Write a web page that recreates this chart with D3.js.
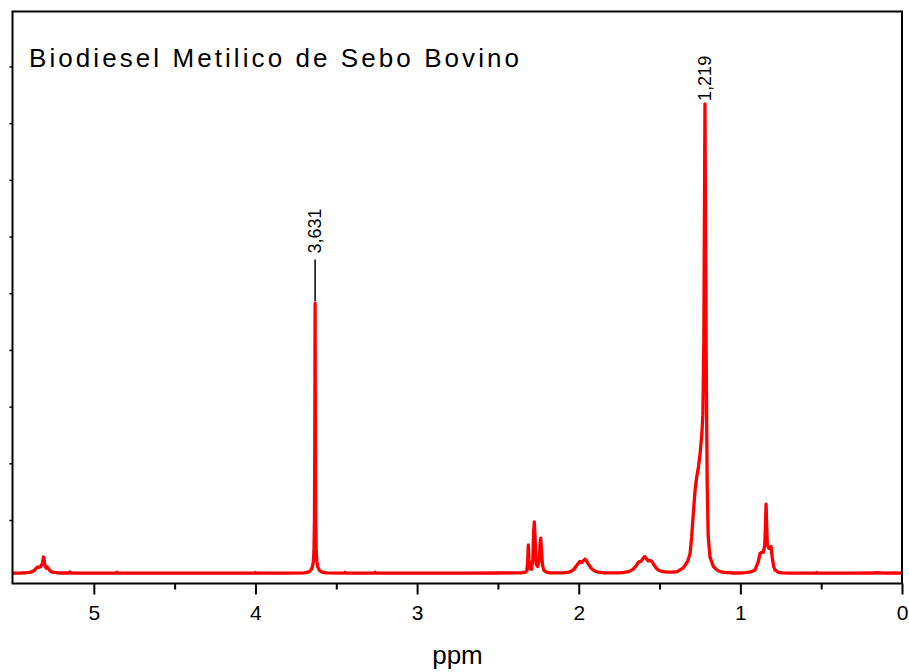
<!DOCTYPE html>
<html>
<head>
<meta charset="utf-8">
<script src="https://cdn.jsdelivr.net/npm/d3@7"></script>
<style>
  html, body { margin: 0; padding: 0; background: #fff; }
  svg { display: block; font-family: Arial, "Liberation Sans", sans-serif; }
</style>
</head>
<body>
<svg id="chart" width="909" height="672"></svg>
<script>
// 1H NMR spectrum: chemical shift (ppm) and relative intensity
const shifts = [
  5.50, 5.46, 5.42, 5.40, 5.38, 5.365, 5.35, 5.34, 5.328, 5.318, 5.314, 5.311, 5.307, 5.302, 5.294, 5.287, 5.28, 5.27, 5.255, 5.23, 5.20,
  5.155, 5.147, 5.14, 5.00, 4.865, 4.858, 4.85, 4.60, 4.30, 4.005, 4.0, 3.995, 3.80,
  3.70, 3.68, 3.667, 3.656, 3.648, 3.642, 3.638, 3.635, 3.633, 3.631, 3.629, 3.627, 3.624, 3.620, 3.614, 3.606, 3.595, 3.58, 3.56,
  3.452, 3.446, 3.44, 3.265, 3.26, 3.255, 3.00, 2.70, 2.50, 2.40, 2.35, 2.33,
  2.321, 2.316, 2.312, 2.308, 2.301, 2.292, 2.284, 2.279, 2.275, 2.271, 2.263, 2.254, 2.245, 2.239, 2.235, 2.231, 2.224, 2.215, 2.20, 2.18,
  2.10, 2.07, 2.05, 2.03, 2.015, 2.00, 1.992, 1.982, 1.972, 1.961, 1.952, 1.94, 1.92, 1.90, 1.88, 1.85, 1.80,
  1.75, 1.72, 1.69, 1.665, 1.645, 1.632, 1.625, 1.615, 1.605, 1.595, 1.59, 1.582, 1.57, 1.56, 1.549, 1.535, 1.52, 1.503, 1.48, 1.45, 1.42,
  1.39, 1.373, 1.355, 1.342, 1.325, 1.311, 1.301, 1.291, 1.280, 1.270, 1.259, 1.249, 1.238, 1.232, 1.226, 1.219, 1.212, 1.208, 1.205,
  1.199, 1.188, 1.167, 1.145, 1.126, 1.10, 1.046, 1.00,
  0.971, 0.935, 0.909, 0.889, 0.878, 0.868, 0.858, 0.849, 0.845, 0.841, 0.837, 0.833, 0.823, 0.810, 0.802, 0.794, 0.786, 0.765, 0.74, 0.703,
  0.60, 0.533, 0.528, 0.523, 0.30, 0.17, 0.16, 0.10, 0.05, 0.00
];
const intensity = [
  0.062, 0.064, 0.07, 0.075, 0.09, 0.12, 0.17, 0.165, 0.18, 0.24, 0.30, 0.35, 0.29, 0.19, 0.15, 0.17, 0.14, 0.10, 0.08, 0.07, 0.065,
  0.065, 0.085, 0.065, 0.063, 0.062, 0.08, 0.063, 0.062, 0.064, 0.063, 0.075, 0.063, 0.064,
  0.066, 0.075, 0.09, 0.12, 0.17, 0.26, 0.45, 1.0, 2.4, 4.82, 2.4, 1.0, 0.45, 0.26, 0.17, 0.12, 0.09, 0.075, 0.066,
  0.064, 0.08, 0.064, 0.064, 0.078, 0.064, 0.063, 0.064, 0.065, 0.066, 0.07, 0.08,
  0.10, 0.25, 0.56, 0.30, 0.14, 0.13, 0.30, 0.80, 0.965, 0.75, 0.22, 0.18, 0.28, 0.58, 0.68, 0.50, 0.20, 0.11, 0.08, 0.068,
  0.066, 0.075, 0.09, 0.13, 0.19, 0.245, 0.27, 0.25, 0.28, 0.31, 0.28, 0.22, 0.14, 0.10, 0.08, 0.07, 0.066,
  0.068, 0.076, 0.09, 0.13, 0.19, 0.25, 0.265, 0.27, 0.31, 0.35, 0.353, 0.32, 0.28, 0.285, 0.277, 0.21, 0.15, 0.11, 0.09, 0.08, 0.08,
  0.09, 0.12, 0.15, 0.20, 0.28, 0.41, 0.71, 1.12, 1.53, 1.76, 1.94, 2.18, 2.53, 2.85, 4.2, 8.34, 4.2, 2.6, 1.59,
  0.71, 0.35, 0.18, 0.12, 0.09, 0.075, 0.065, 0.065,
  0.072, 0.085, 0.12, 0.265, 0.41, 0.43, 0.43, 0.56, 0.9, 1.28, 0.9, 0.56, 0.50, 0.53, 0.32, 0.18, 0.12, 0.078, 0.066, 0.063,
  0.063, 0.063, 0.075, 0.063, 0.063, 0.065, 0.07, 0.064, 0.066, 0.064
];

// Axis ticks
const xMajorTicks = [5, 4, 3, 2, 1, 0];
const xMinorTicks = [4.5, 3.5, 2.5, 1.5, 0.5];
const yTicks = [1, 2, 3, 4, 5, 6, 7, 8, 9];

// Annotated peaks
const peakShifts = [3.631, 1.219];
const peakLabels = ["3,631", "1,219"];
const peakHeights = [4.82, 8.34];
const peakLeaders = [true, false];

const titleText = "Biodiesel Metilico de Sebo Bovino";
const xTitle = "ppm";

const svg = d3.select("#chart");
const plotLeft = 12.5, plotRight = 902, plotTop = 11.5, plotBottom = 583.5;

const x = d3.scaleLinear().domain([5.5, 0]).range([13, plotRight]);
const y = d3.scaleLinear().domain([-0.12, 9.97]).range([plotBottom, plotTop]);

// Spectrum trace
const points = shifts.map((s, i) => [s, intensity[i]]);
const line = d3.line().x(d => x(d[0])).y(d => y(d[1]));
svg.append("path")
  .datum(points)
  .attr("d", line)
  .attr("fill", "none")
  .attr("stroke", "#ff0000")
  .attr("stroke-width", 3.3)
  .attr("stroke-linejoin", "round");

// Bottom axis: major ticks with labels
const xAxis = svg.append("g")
  .attr("transform", `translate(0,${plotBottom})`)
  .call(d3.axisBottom(x).tickValues(xMajorTicks).tickSize(11).tickPadding(11).tickFormat(d3.format("d")));
xAxis.select(".domain").remove();
xAxis.selectAll(".tick line").attr("stroke", "#000").attr("stroke-width", 2);
xAxis.selectAll(".tick text")
  .attr("fill", "#000")
  .style("font-size", "21px")
  .style("font-family", "Arial, 'Liberation Sans', sans-serif");

// Bottom axis: minor ticks
const xMinor = svg.append("g")
  .attr("transform", `translate(0,${plotBottom})`)
  .call(d3.axisBottom(x).tickValues(xMinorTicks).tickSize(6).tickFormat(""));
xMinor.select(".domain").remove();
xMinor.selectAll(".tick line").attr("stroke", "#000").attr("stroke-width", 2);

// Left axis: short unlabeled ticks
const yAxis = svg.append("g")
  .attr("transform", `translate(${plotLeft},0)`)
  .call(d3.axisLeft(y).tickValues(yTicks).tickSize(3).tickFormat(""));
yAxis.select(".domain").remove();
yAxis.selectAll(".tick line").attr("stroke", "#000").attr("stroke-width", 1.5);

// Plot frame
svg.append("rect")
  .attr("x", plotLeft).attr("y", plotTop)
  .attr("width", plotRight - plotLeft).attr("height", plotBottom - plotTop)
  .attr("fill", "none")
  .attr("stroke", "#000")
  .attr("stroke-width", 2);

// Title inside the frame
svg.append("text")
  .attr("x", 29).attr("y", 67)
  .attr("textLength", 490)
  .attr("lengthAdjust", "spacing")
  .style("font-size", "26px")
  .attr("fill", "#000")
  .text(titleText);

// Axis title
svg.append("text")
  .attr("x", (13 + plotRight) / 2).attr("y", 664)
  .attr("text-anchor", "middle")
  .style("font-size", "26px")
  .attr("fill", "#000")
  .text(xTitle);

// Peak annotations
peakShifts.forEach((s, i) => {
  const px = x(s);
  const py = y(peakHeights[i]);
  let textBase = py - 3;
  if (peakLeaders[i]) {
    svg.append("line")
      .attr("x1", px).attr("x2", px)
      .attr("y1", py - 2).attr("y2", py - 44)
      .attr("stroke", "#000").attr("stroke-width", 1.5);
    textBase = py - 50;
  }
  svg.append("text")
    .attr("transform", `translate(${px + 6},${textBase}) rotate(-90)`)
    .attr("text-anchor", "start")
    .style("font-size", "18px")
    .attr("fill", "#000")
    .text(peakLabels[i]);
});
</script>
</body>
</html>
